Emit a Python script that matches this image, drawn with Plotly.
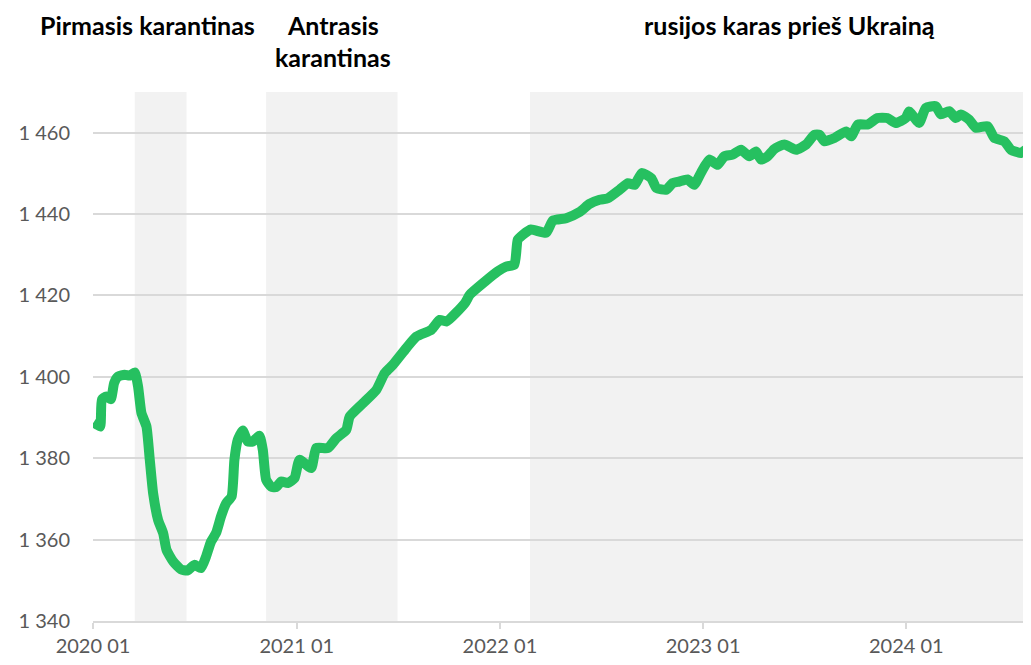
import plotly.graph_objects as go

dates = [
    "2020-01-02", "2020-01-09", "2020-01-14", "2020-01-17", "2020-01-25", "2020-02-02", "2020-02-08",
    "2020-02-15", "2020-02-27", "2020-03-07", "2020-03-16", "2020-03-22", "2020-03-28", "2020-04-06",
    "2020-04-12", "2020-04-18", "2020-04-27", "2020-05-06", "2020-05-12", "2020-05-24", "2020-06-07",
    "2020-06-19", "2020-07-01", "2020-07-13", "2020-07-22", "2020-07-31", "2020-08-09", "2020-08-18",
    "2020-08-27", "2020-09-06", "2020-09-11", "2020-09-17", "2020-09-26", "2020-10-05", "2020-10-14",
    "2020-10-26", "2020-11-01", "2020-11-07", "2020-11-16", "2020-11-25", "2020-12-04", "2020-12-16",
    "2020-12-28", "2021-01-06", "2021-01-27", "2021-02-05", "2021-02-26", "2021-03-13", "2021-03-31",
    "2021-04-06", "2021-04-30", "2021-05-24", "2021-06-08", "2021-06-23", "2021-07-17", "2021-08-04",
    "2021-08-31", "2021-09-15", "2021-09-27", "2021-10-30", "2021-11-08", "2021-12-05", "2021-12-28",
    "2022-01-12", "2022-01-27", "2022-02-02", "2022-02-11", "2022-02-26", "2022-03-25", "2022-04-06",
    "2022-04-30", "2022-05-24", "2022-06-11", "2022-06-29", "2022-07-14", "2022-08-04", "2022-08-19",
    "2022-08-31", "2022-09-13", "2022-09-30", "2022-10-09", "2022-10-27", "2022-11-07", "2022-11-19",
    "2022-12-04", "2022-12-16", "2022-12-28", "2023-01-12", "2023-01-27", "2023-02-08", "2023-02-23",
    "2023-03-10", "2023-03-25", "2023-04-06", "2023-04-15", "2023-04-27", "2023-05-09", "2023-05-27",
    "2023-06-17", "2023-07-05", "2023-07-20", "2023-07-29", "2023-08-07", "2023-08-25", "2023-09-15",
    "2023-09-24", "2023-10-06", "2023-10-24", "2023-11-10", "2023-11-28", "2023-12-13", "2023-12-31",
    "2024-01-06", "2024-01-24", "2024-02-05", "2024-02-23", "2024-03-03", "2024-03-18", "2024-03-30",
    "2024-04-08", "2024-04-23", "2024-05-05", "2024-05-26", "2024-06-07", "2024-06-25", "2024-07-07",
    "2024-07-25", "2024-08-03", "2024-08-11",
]
values = [
    1388.8, 1388.2, 1387.8, 1394.4, 1395.2, 1394.5, 1398.5,
    1400.1, 1400.5, 1400.3, 1401.1, 1397.6, 1391.1, 1387.8,
    1379.6, 1371.4, 1364.8, 1361.6, 1357.5, 1354.6, 1352.7,
    1352.4, 1353.8, 1353.0, 1355.8, 1359.5, 1361.6, 1365.7,
    1368.9, 1370.6, 1379.6, 1384.5, 1386.8, 1384.1, 1384.1,
    1385.5, 1382.1, 1374.7, 1373.0, 1372.9, 1374.3, 1373.9,
    1375.1, 1379.6, 1377.6, 1382.5, 1382.5, 1384.9, 1387.0,
    1390.2, 1393.5, 1396.8, 1400.9, 1403.0, 1407.1, 1409.9,
    1411.6, 1414.0, 1413.6, 1418.1, 1420.2, 1423.4, 1425.9,
    1427.1, 1427.6, 1433.7, 1434.9, 1436.2, 1435.4, 1438.4,
    1439.0, 1440.5, 1442.5, 1443.5, 1443.9, 1446.0, 1447.6,
    1447.2, 1450.1, 1448.8, 1446.4, 1446.0, 1447.6, 1448.0,
    1448.5, 1447.2, 1450.1, 1453.4, 1452.1, 1454.2, 1454.6,
    1455.8, 1454.2, 1455.4, 1453.4, 1454.2, 1456.0, 1457.1,
    1455.8, 1457.1, 1459.5, 1459.5, 1457.9, 1458.7, 1460.3,
    1459.1, 1462.0, 1462.0, 1463.6, 1463.6, 1462.4, 1463.6,
    1465.2, 1462.4, 1466.1, 1466.5, 1464.5, 1465.3, 1463.6,
    1464.5, 1463.2, 1461.2, 1461.6, 1458.7, 1457.9, 1455.8,
    1455.0, 1455.8, 1453.8,
]

periods = [
    ("2020-03-16", "2020-06-17", "Pirmasis karantinas"),
    ("2020-11-07", "2021-07-01", "Antrasis karantinas"),
    ("2022-02-24", "2024-12-31", "rusijos karas prieš Ukrainą"),
]

x_tick_vals = ["2020-01-01", "2021-01-01", "2022-01-01", "2023-01-01", "2024-01-01"]
x_tick_text = ["2020 01", "2021 01", "2022 01", "2023 01", "2024 01"]
y_tick_vals = [1340, 1360, 1380, 1400, 1420, 1440, 1460]
y_tick_text = ["1 340", "1 360", "1 380", "1 400", "1 420", "1 440", "1 460"]

GREEN = "#26C060"
SHADE = "#F2F2F2"
GRID = "#D9D9D9"
TICKFONT = dict(family="Lato, Carlito, sans-serif", size=20, color="#595959")
TITLEFONT = dict(family="Lato, Carlito, sans-serif", size=25, color="#000000")

fig = go.Figure()
fig.add_trace(go.Scatter(
    x=dates, y=values, mode="lines",
    line=dict(color=GREEN, width=10, shape="spline", smoothing=0.5),
    hoverinfo="x+y", showlegend=False,
))

for x0, x1, _ in periods:
    fig.add_shape(type="rect", xref="x", yref="paper", x0=x0, x1=x1, y0=0, y1=1,
                  fillcolor=SHADE, line=dict(width=0), layer="between")

# labels above the shaded periods
ann = dict(xref="paper", yref="paper", xanchor="center", yanchor="top",
           showarrow=False, font=TITLEFONT, borderpad=0)
fig.add_annotation(text="<b>Pirmasis karantinas</b>", x=0.058, y=1.157, **ann)
fig.add_annotation(text="<b>Antrasis</b>", x=0.256, y=1.157, **ann)
fig.add_annotation(text="<b>karantinas</b>", x=0.256, y=1.096, **ann)
fig.add_annotation(text="<b>rusijos karas prieš Ukrainą</b>", x=0.743, y=1.157, **ann)

fig.update_layout(
    width=1023, height=649,
    margin=dict(l=85, r=0, t=84, b=36),
    paper_bgcolor="white", plot_bgcolor="white",
    xaxis=dict(
        type="date", range=["2020-01-01", "2024-08-12"],
        tickvals=x_tick_vals, ticktext=x_tick_text,
        showgrid=False, zeroline=False, automargin=False,
        showline=True, linecolor=GRID, linewidth=1.5,
        ticks="outside", ticklen=6, tickcolor=GRID, tickwidth=1.5,
        tickfont=TICKFONT,
    ),
    yaxis=dict(
        range=[1340, 1470],
        tickvals=y_tick_vals, ticktext=y_tick_text,
        showgrid=True, gridcolor=GRID, gridwidth=1.5,
        zeroline=False, showline=False, automargin=False,
        ticks="", ticklabelstandoff=22,
        tickfont=TICKFONT,
    ),
)

fig.write_html("out.html")
